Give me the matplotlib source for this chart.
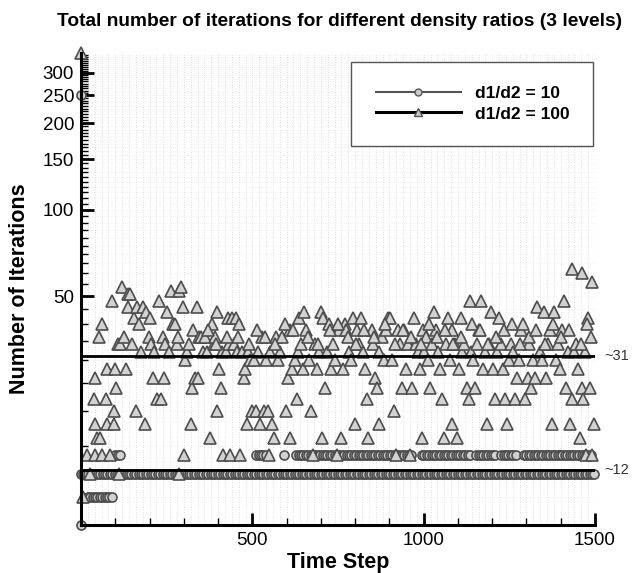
import numpy as np
import matplotlib.pyplot as plt
from matplotlib.lines import Line2D
from matplotlib.ticker import FixedLocator, NullFormatter

plt.rcParams['font.family'] = ['Liberation Sans', 'DejaVu Sans']

# d1/d2 = 100 (triangles): time step and number of iterations
tri_step = [0, 6, 26, 111, 286, 18, 40, 62, 85, 48, 56, 41, 76, 96,
            38, 40, 53, 61, 73, 77, 91, 95, 99, 103, 109, 115, 121, 126, 132, 136,
            138, 144, 150, 156, 160, 162, 168, 174, 180, 186, 191, 197, 200, 203,
            209, 213, 221, 227, 233, 239, 242, 245, 251, 256, 262, 268, 274, 280,
            284, 286, 292, 298, 301, 304, 310, 316, 322, 324, 327, 333, 337, 342,
            345, 351, 357, 363, 369, 375, 381, 387, 390, 396, 398, 404, 408, 410,
            414, 422, 428, 431, 436, 440, 446, 452, 455, 457, 463, 469, 475, 479,
            483, 487, 493, 499, 505, 511, 517, 522, 528, 534, 540, 546, 550, 552,
            558, 564, 570, 576, 582, 587, 599, 603, 609, 611, 617, 623, 629, 632,
            635, 641, 647, 652, 658, 664, 670, 676, 682, 688, 694, 700, 703, 706,
            712, 717, 723, 729, 735, 741, 747, 753, 759, 765, 771, 774, 782, 788,
            794, 800, 806, 812, 818, 824, 830, 836, 838, 848, 853, 859, 865, 869,
            871, 877, 883, 889, 895, 901, 907, 913, 918, 924, 930, 936, 942, 948,
            954, 960, 966, 972, 978, 983, 989, 995, 999, 1001, 1007, 1013, 1019,
            1025, 1031, 1037, 1043, 1048, 1054, 1060, 1066, 1072, 1078, 1082, 1084,
            1090, 1096, 1102, 1108, 1113, 1119, 1125, 1131, 1135, 1137, 1143, 1149,
            1155, 1161, 1167, 1173, 1178, 1184, 1190, 1196, 1202, 1208, 1214, 1220,
            1226, 1232, 1238, 1243, 1249, 1255, 1261, 1267, 1273, 1279, 1285, 1291,
            1297, 1303, 1308, 1314, 1320, 1326, 1332, 1338, 1344, 1350, 1356, 1362,
            1368, 1373, 1379, 1385, 1391, 1397, 1403, 1409, 1415, 1421, 1427, 1433,
            1438, 1444, 1450, 1456, 1462, 1466, 1472, 1474, 1480, 1486, 1489, 1492,
            1498, 1434, 1463, 1492,
            372, 393, 425, 460, 490, 514, 537, 567, 594, 620, 661, 691, 726, 750,
            779, 803, 827, 856, 886, 915, 939, 963, 992, 1016, 1040, 1063, 1087,
            1110, 1140, 1164, 1187, 1211, 1235, 1258, 1282, 1306, 1329, 1353, 1376,
            1400, 1424, 1459, 1477]
tri_iter = [350, 10, 12, 12, 12, 14, 14, 14, 14, 16, 16, 18, 18, 18,
            22, 26, 36, 40, 22, 28, 48, 20, 28, 24, 34, 34, 54, 36, 28, 46,
            51, 51, 34, 42, 20, 46, 40, 32, 46, 18, 44, 36, 42, 34,
            26, 32, 22, 48, 22, 36, 26, 34, 44, 32, 52, 40, 40, 34,
            36, 52, 54, 46, 14, 30, 32, 34, 18, 24, 38, 26, 46, 26,
            36, 36, 32, 36, 32, 16, 40, 34, 36, 20, 44, 28, 24, 32,
            14, 32, 42, 34, 14, 42, 34, 42, 32, 36, 14, 32, 26, 28,
            18, 32, 30, 20, 30, 20, 32, 18, 36, 20, 30, 20, 14, 32,
            18, 16, 36, 30, 32, 36, 20, 26, 16, 38, 28, 30, 22, 32,
            42, 34, 28, 44, 38, 30, 20, 14, 34, 28, 32, 44, 16, 42,
            24, 32, 40, 28, 34, 30, 14, 38, 16, 28, 40, 38, 32, 30,
            42, 18, 38, 34, 42, 32, 28, 22, 16, 38, 34, 26, 24, 32,
            18, 36, 30, 38, 42, 42, 30, 20, 14, 38, 34, 24, 38, 28,
            34, 14, 24, 42, 34, 32, 28, 16, 38, 32, 36, 30, 24,
            34, 44, 38, 32, 28, 22, 16, 34, 42, 30, 18, 38,
            34, 16, 28, 42, 32, 34, 24, 22, 48, 32, 30, 24,
            34, 38, 48, 28, 32, 18, 34, 44, 28, 22, 32, 42,
            34, 28, 22, 18, 30, 34, 32, 22, 26, 30, 38, 40,
            22, 26, 34, 24, 30, 26, 46, 32, 30, 44, 26, 34,
            38, 18, 44, 30, 34, 28, 38, 48, 24, 32, 18, 22,
            32, 34, 28, 16, 24, 22, 32, 14, 42, 24, 36, 14,
            18, 62, 60, 56,
            38, 34, 36, 40, 34, 38, 36, 34, 40, 38, 36, 34, 38, 40,
            36, 34, 38, 36, 40, 34, 38, 36, 34, 40, 36, 38, 34,
            36, 40, 38, 34, 36, 38, 40, 34, 36, 38, 34, 40,
            36, 38, 34, 40]

# d1/d2 = 10 (circles): runs of a constant iteration count along the time axis
circ_run_start = [0, 20, 100, 511, 593, 628, 995, 1153, 1226, 1293]
circ_run_end = [1500, 93, 117, 540, 593, 966, 1141, 1211, 1273, 1492]
circ_run_iter = [12, 10, 14, 14, 14, 14, 14, 14, 14, 14]
circ_extra_step = [0, 0]
circ_extra_iter = [250, 8]

mean_levels = [31, 12.4]
mean_labels = ['~31', '~12']

yticks = [50, 100, 150, 200, 250, 300]
xticks = [500, 1000, 1500]

circ_step = list(circ_extra_step)
circ_iter = list(circ_extra_iter)
for s, e, v in zip(circ_run_start, circ_run_end, circ_run_iter):
    pts = np.arange(s, e + 1, 7)
    circ_step += list(pts)
    circ_iter += [v] * len(pts)

fig = plt.figure(figsize=(6.33, 5.73), dpi=100)
ax = fig.add_axes([0.128, 0.084, 0.812, 0.824])

# faint background grid
for gx in np.arange(20, 1500, 20):
    ax.axvline(gx, color='#d4d4d4', lw=0.6, ls=(0, (1, 2)), zorder=0)
for gy in np.arange(10, 350, 5):
    ax.axhline(gy, color='#e6e6e6', lw=0.5, ls=(0, (1, 2)), zorder=0)

mk = dict(linestyle='none', markeredgewidth=1.2, markeredgecolor='#4d4d4d',
          markerfacecolor='#d2d2d2', clip_on=False)
ax.plot(circ_step, circ_iter, marker='o', markersize=6.5, zorder=2, **mk)
ax.plot(tri_step, tri_iter, marker='^', markersize=8, zorder=2, **mk)

for lvl, lab in zip(mean_levels, mean_labels):
    ax.plot([0, 1500], [lvl, lvl], color='black', lw=2, zorder=3)
    ax.annotate(lab, xy=(1500, lvl), xytext=(7, 0), textcoords='offset points',
                va='center', ha='left', fontsize=10.5, color='#333333')

ax.set_yscale('log')
ax.set_xlim(0, 1500)
ax.set_ylim(8, 352)

ax.yaxis.set_major_locator(FixedLocator(yticks))
ax.set_yticklabels([str(v) for v in yticks])
ax.yaxis.set_minor_locator(FixedLocator([v for v in range(10, 350, 5) if v not in yticks]))
ax.yaxis.set_minor_formatter(NullFormatter())
ax.set_xticks(xticks)
ax.set_xticklabels([str(v) for v in xticks])
ax.xaxis.set_minor_locator(FixedLocator(list(range(100, 1500, 100))))

ax.tick_params(which='both', direction='in', labelsize=13.5, pad=5)
ax.tick_params(which='major', length=9, width=2)
ax.tick_params(which='minor', length=5, width=1)

for side in ['top', 'right']:
    ax.spines[side].set_visible(False)
for side in ['left', 'bottom']:
    ax.spines[side].set_linewidth(2.2)

ax.set_xlabel('Time Step', fontsize=15.5, fontweight='bold', labelpad=2)
ax.set_ylabel('Number of Iterations', fontsize=15.5, fontweight='bold', labelpad=9)
fig.text(0.537, 0.962, 'Total number of iterations for different density ratios (3 levels)',
         ha='center', va='center', fontsize=13.8, fontweight='bold')

handles = [Line2D([], [], color='#555555', lw=1.5, marker='o', markersize=5,
                  markerfacecolor='#cccccc', markeredgecolor='#555555'),
           Line2D([], [], color='black', lw=2.2, marker='^', markersize=5.5,
                  markerfacecolor='#cccccc', markeredgecolor='#555555')]
leg = ax.legend(handles, ['d1/d2 = 10', 'd1/d2 = 100'], loc='upper right',
                bbox_to_anchor=(0.997, 0.981), borderaxespad=0, fancybox=False,
                framealpha=1, edgecolor='#555555', borderpad=1.4, handlelength=4.9,
                handletextpad=0.8, labelspacing=0.3,
                prop={'weight': 'bold', 'size': 12.5})
leg.get_frame().set_linewidth(1.0)

fig.savefig('out.png', dpi=100)
